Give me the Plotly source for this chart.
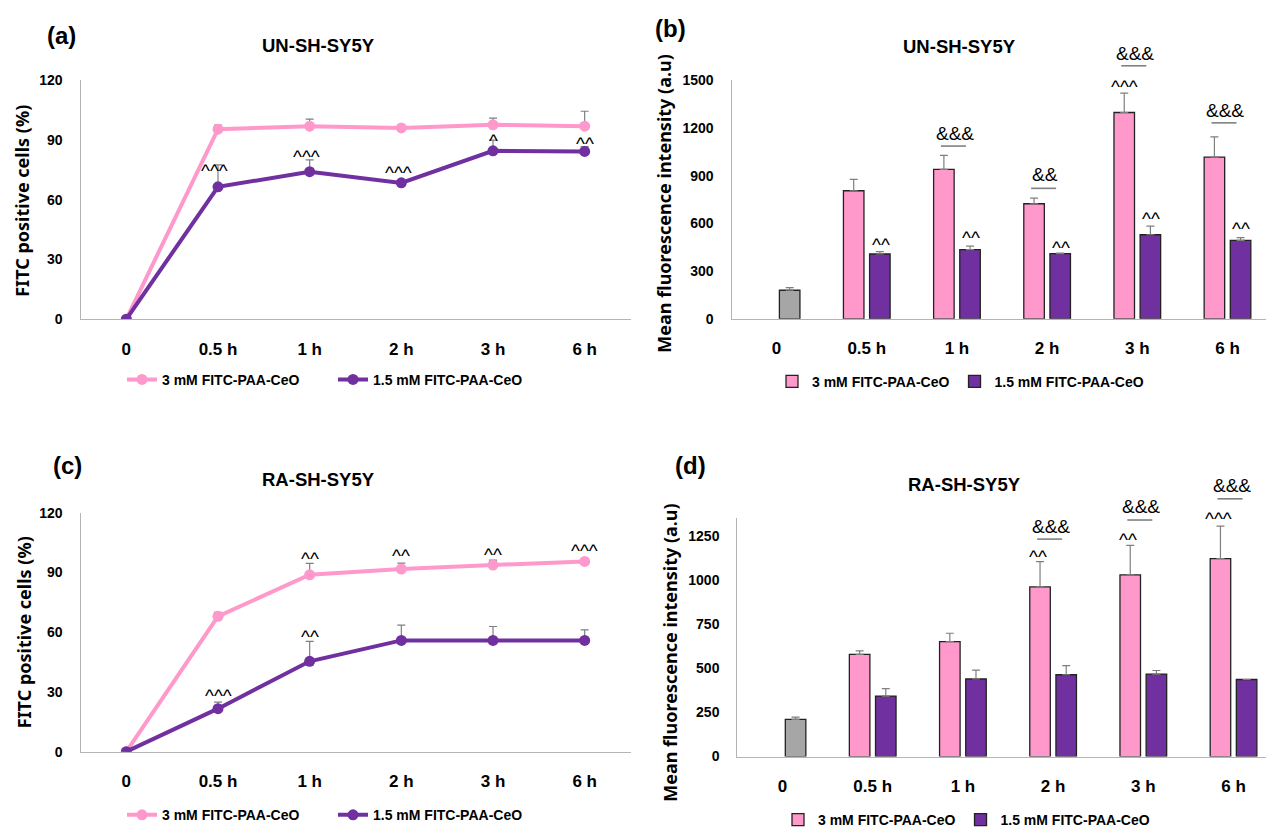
import plotly.graph_objects as go

W, H = 1266, 836

categories = ["0", "0.5 h", "1 h", "2 h", "3 h", "6 h"]
series_names = ["3 mM FITC-PAA-CeO", "1.5 mM FITC-PAA-CeO"]

# (a) UN-SH-SY5Y - FITC positive cells (%)
a_high = [0, 95.5, 97.0, 96.1, 97.7, 97.0]
a_high_err = [0, 2.0, 3.5, 0, 3.3, 7.5]
a_low = [0, 66.5, 74.1, 68.5, 84.6, 84.3]
a_low_err = [0, 11.0, 6.0, 0, 5.4, 2.4]

# (b) UN-SH-SY5Y - Mean fluorescence intensity (a.u)
b_control = [180]
b_control_err = [17]
b_high = [806, 940, 724, 1298, 1018]
b_high_err = [72, 88, 35, 122, 127]
b_low = [408, 435, 410, 529, 494]
b_low_err = [15, 23, 3, 55, 17]

# (c) RA-SH-SY5Y - FITC positive cells (%)
c_high = [0, 68.0, 88.9, 91.8, 93.8, 95.6]
c_high_err = [0, 2.0, 5.7, 3.0, 2.5, 0]
c_low = [0, 21.6, 45.4, 55.9, 55.9, 55.9]
c_low_err = [0, 3.3, 10.0, 7.7, 7.0, 5.3]

# (d) RA-SH-SY5Y - Mean fluorescence intensity (a.u)
d_control = [210]
d_control_err = [13]
d_high = [578, 650, 960, 1028, 1121]
d_high_err = [20, 48, 144, 168, 183]
d_low = [342, 439, 463, 467, 436]
d_low_err = [42, 50, 52, 20, 0]

# significance marks: (category index, value, text, x offset in px)
a_marks = [(1, 76, "^^^", -3), (2, 83.4, "^^^", -3), (3, 75.1, "^^^", -3),
           (4, 91.5, "^", 0), (5, 89.9, "^^", 0)]
b_marks = [(1, 489, "^^", 14), (2, 529, "^^", 14), (3, 468, "^^", 14),
           (4, 650, "^^", 14), (5, 585, "^^", 14), (4, 1479, "^^^", -13)]
b_amp = [(2, 1169, "&&&", 1087), (3, 909, "&&", 821),
         (4, 1672, "&&&", 1592), (5, 1309, "&&&", 1233)]
c_marks = [(2, 98.4, "^^", 0), (3, 100.3, "^^", 0), (4, 100.8, "^^", 0),
           (5, 102.5, "^^^", 0), (2, 59.5, "^^", 0), (1, 29.8, "^^^", 0)]
d_marks = [(3, 1150, "^^", -15), (4, 1245, "^^", -15), (5, 1363, "^^^", -15)]
d_amp = [(3, 1302, "&&&", 1231), (4, 1413, "&&&", 1339), (5, 1533, "&&&", 1459)]

PINK = "#FF99CC"
PURPLE = "#7030A0"
GRAY = "#A6A6A6"
ERRC = "#7F7F7F"
AXC = "#B4B4B4"
TICKF = "Liberation Sans"
TITLEF = "Noto Sans"

geo = {
    "a": dict(x0=80.5, x1=630.5, xr=(-0.5, 5.5), yb=318.0, yt=74.0, yr=(0, 120), dt=30),
    "b": dict(x0=731.5, x1=1266, xr=(-0.5, 5.427), yb=317.7, yt=74.0, yr=(0, 1500), dt=300),
    "c": dict(x0=80.5, x1=630.5, xr=(-0.5, 5.5), yb=760.0, yt=516.0, yr=(0, 120), dt=30),
    "d": dict(x0=737.4, x1=1266, xr=(-0.5, 5.36), yb=765.0, yt=521.3, yr=(0, 1350), dt=250),
}
axid = {"a": "", "b": "2", "c": "3", "d": "4"}


def to_paper(p, cat, val, dx=0):
    g = geo[p]
    fx = (cat - g["xr"][0]) / (g["xr"][1] - g["xr"][0])
    xpx = g["x0"] + fx * (g["x1"] - g["x0"]) + dx
    fy = (val - g["yr"][0]) / (g["yr"][1] - g["yr"][0])
    ypx = g["yb"] - fy * (g["yb"] - g["yt"])
    return xpx / W, 1 - ypx / H


def err(arr):
    return dict(type="data", symmetric=False, array=arr, arrayminus=[0] * len(arr),
                color=ERRC, thickness=1.2, width=4)


fig = go.Figure()

# line panels
for p, hi, hie, lo, loe, leg in [("a", a_high, a_high_err, a_low, a_low_err, "legend"),
                                 ("c", c_high, c_high_err, c_low, c_low_err, "legend3")]:
    k = axid[p]
    fig.add_trace(go.Scatter(x=categories, y=hi, name=series_names[0], mode="lines+markers",
                             line=dict(color=PINK, width=4), marker=dict(color=PINK, size=11),
                             error_y=err(hie), xaxis="x" + k, yaxis="y" + k, legend=leg))
    fig.add_trace(go.Scatter(x=categories, y=lo, name=series_names[1], mode="lines+markers",
                             line=dict(color=PURPLE, width=4), marker=dict(color=PURPLE, size=11),
                             error_y=err(loe), xaxis="x" + k, yaxis="y" + k, legend=leg))

# bar panels
for p, ctl, ctle, hi, hie, lo, loe, leg in [
        ("b", b_control, b_control_err, b_high, b_high_err, b_low, b_low_err, "legend2"),
        ("d", d_control, d_control_err, d_high, d_high_err, d_low, d_low_err, "legend4")]:
    k = axid[p]
    outline = dict(color="#222222", width=1.3)
    fig.add_trace(go.Bar(x=categories[1:], y=hi, name=series_names[0], offsetgroup="hi",
                         marker=dict(color=PINK, line=outline), error_y=err(hie),
                         xaxis="x" + k, yaxis="y" + k, legend=leg))
    fig.add_trace(go.Bar(x=categories[1:], y=lo, name=series_names[1], offsetgroup="lo",
                         marker=dict(color=PURPLE, line=outline), error_y=err(loe),
                         xaxis="x" + k, yaxis="y" + k, legend=leg))
    fig.add_trace(go.Bar(x=categories[:1], y=ctl, name="Control", offsetgroup="lo",
                         marker=dict(color=GRAY, line=outline), error_y=err(ctle),
                         xaxis="x" + k, yaxis="y" + k, showlegend=False))

layout = dict(width=W, height=H, margin=dict(l=0, r=0, t=0, b=0), autosize=False,
              paper_bgcolor="white", plot_bgcolor="white", showlegend=True,
              barmode="group", bargap=0.42, bargroupgap=0.215,
              font=dict(family=TICKF, color="black"))

for p, g in geo.items():
    k = axid[p]
    layout["xaxis" + k] = dict(domain=[g["x0"] / W, g["x1"] / W], range=list(g["xr"]),
                               type="category", categoryorder="array", categoryarray=categories,
                               showline=True, linecolor=AXC, linewidth=1.3, showgrid=False,
                               zeroline=False, ticks="", ticklabelstandoff=14,
                               tickfont=dict(family=TICKF, size=17, color="black", weight="bold"),
                               anchor="y" + k, fixedrange=True)
    layout["yaxis" + k] = dict(domain=[1 - g["yb"] / H, 1 - g["yt"] / H], range=list(g["yr"]),
                               dtick=g["dt"], tick0=0, showline=True, linecolor=AXC,
                               linewidth=1.3, showgrid=False, zeroline=False, ticks="",
                               ticklabelstandoff=14,
                               tickfont=dict(family=TICKF, size=14, color="black", weight="bold"),
                               anchor="x" + k, fixedrange=True)

legfont = dict(family=TICKF, size=14, color="black", weight="bold")
layout["legend"] = dict(orientation="h", x=122 / W, y=1 - 380 / H, xanchor="left", yanchor="middle",
                        font=legfont, entrywidth=166, bgcolor="rgba(0,0,0,0)", itemwidth=30)
layout["legend3"] = dict(orientation="h", x=122 / W, y=1 - 825 / H, xanchor="left", yanchor="middle",
                         font=legfont, entrywidth=166, bgcolor="rgba(0,0,0,0)", itemwidth=30)
layout["legend2"] = dict(orientation="h", x=772 / W, y=1 - 382 / H, xanchor="left", yanchor="middle",
                         font=legfont, bgcolor="rgba(0,0,0,0)", itemwidth=30)
layout["legend4"] = dict(orientation="h", x=778 / W, y=1 - 830 / H, xanchor="left", yanchor="middle",
                         font=legfont, bgcolor="rgba(0,0,0,0)", itemwidth=30)

annotations = []
shapes = []


def txt(xp, yp, text, size, family, bold=False, angle=0, yshift=0):
    annotations.append(dict(x=xp, y=yp, xref="paper", yref="paper", text=text, showarrow=False,
                            xanchor="center", yanchor="middle", textangle=angle, yshift=yshift,
                            font=dict(family=family, size=size, color="black",
                                      weight="bold" if bold else "normal")))


# panel letters, titles, axis titles (pixel positions)
for (x, y, t) in [(61, 28, "(a)"), (670, 21, "(b)"), (67, 468, "(c)"), (690, 468, "(d)")]:
    txt(x / W, 1 - y / H, t, 24, TICKF, bold=True)
for (x, y, t) in [(318, 38, "UN-SH-SY5Y"), (959, 39, "UN-SH-SY5Y"),
                  (318, 482, "RA-SH-SY5Y"), (964, 487, "RA-SH-SY5Y")]:
    txt(x / W, 1 - y / H, t, 18.5, TICKF, bold=True)
for (x, y, t) in [(22, 197, "FITC positive cells (%)"), (664, 200, "Mean fluorescence intensity (a.u)"),
                  (24, 638, "FITC positive cells (%)"), (670, 659, "Mean fluorescence intensity (a.u)")]:
    txt(x / W, 1 - y / H, t, 18, TITLEF, bold=True, angle=-90)

for p, marks in [("a", a_marks), ("b", b_marks), ("c", c_marks), ("d", d_marks)]:
    for cat, val, t, dx in marks:
        xp, yp = to_paper(p, cat, val, dx)
        txt(xp, yp, t, 19, TICKF, yshift=-3)

for p, amps in [("b", b_amp), ("d", d_amp)]:
    for cat, val, t, lv in amps:
        xp, yp = to_paper(p, cat, val, -2)
        txt(xp, yp, t, 19, TICKF)
        x0, y0 = to_paper(p, cat, lv, -16)
        x1, _ = to_paper(p, cat, lv, 9)
        shapes.append(dict(type="line", xref="paper", yref="paper", x0=x0, x1=x1, y0=y0, y1=y0,
                           line=dict(color="#808080", width=1.6)))

layout["annotations"] = annotations
layout["shapes"] = shapes
fig.update_layout(**layout)
fig.write_html("out.html", config={"displayModeBar": False},
               post_script="document.body.style.margin='0';document.body.style.overflow='hidden';")
